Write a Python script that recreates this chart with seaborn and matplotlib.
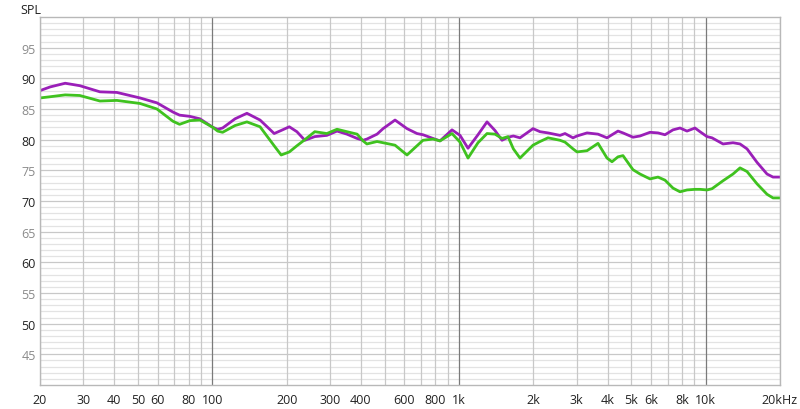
import numpy as np
import pandas as pd
import matplotlib
matplotlib.use("Agg")
import matplotlib.pyplot as plt
import seaborn as sns

freq = [20, 22, 25.3, 29, 35, 41, 50.9, 59.6, 69.2, 73.6, 81, 89, 100.5, 105, 110,
        123.5, 138, 156, 178, 190, 205, 220, 237, 260, 291, 320, 351, 386, 408, 423,
        465, 492, 550, 615, 675, 714, 784, 837, 936, 1009, 1087, 1193, 1298, 1398,
        1493, 1579, 1660, 1766, 1994, 2129, 2294, 2566, 2688, 2896, 3007, 3301, 3658,
        3979, 4168, 4408, 4618, 5071, 5414, 5943, 6405, 6835, 7367, 7865, 8395, 9044,
        9478, 10118, 10601, 11750, 12898, 13771, 14701, 16138, 17716, 18735, 20000]

purple = [88.0, 88.6, 89.2, 88.8, 87.8, 87.7, 86.8, 86.0, 84.5, 84.0, 83.8, 83.4, 82.0, 81.7, 81.9,
          83.4, 84.3, 83.2, 81.0, 81.5, 82.1, 81.3, 79.9, 80.5, 80.7, 81.4, 80.9, 80.2, 79.9, 80.1,
          80.9, 81.8, 83.2, 81.8, 81.0, 80.8, 80.2, 79.8, 81.6, 80.7, 78.6, 80.8, 82.9, 81.5,
          79.9, 80.4, 80.6, 80.3, 81.8, 81.3, 81.1, 80.7, 81.0, 80.3, 80.6, 81.1, 80.9,
          80.3, 80.8, 81.4, 81.1, 80.4, 80.6, 81.2, 81.1, 80.8, 81.6, 81.9, 81.4, 81.9,
          81.3, 80.5, 80.3, 79.3, 79.5, 79.3, 78.5, 76.3, 74.4, 73.9, 73.9]

green = [86.8, 87.0, 87.3, 87.2, 86.3, 86.4, 85.9, 85.0, 83.0, 82.5, 83.1, 83.2, 82.0, 81.4, 81.2,
         82.3, 82.9, 82.1, 79.0, 77.5, 78.0, 79.0, 80.0, 81.3, 81.0, 81.7, 81.3, 80.9, 79.8, 79.3,
         79.7, 79.5, 79.1, 77.5, 79.0, 79.9, 80.1, 79.8, 81.0, 79.6, 77.0, 79.5, 81.0, 80.9,
         80.2, 80.5, 78.5, 77.0, 79.1, 79.7, 80.3, 79.9, 79.6, 78.5, 78.0, 78.2, 79.4,
         77.0, 76.4, 77.2, 77.4, 75.1, 74.4, 73.6, 73.9, 73.4, 72.1, 71.5, 71.8, 71.9,
         71.9, 71.8, 72.0, 73.3, 74.4, 75.4, 74.8, 72.8, 71.1, 70.5, 70.5]

series_names = ["A", "B"]
series_colors = ["#9a1fb8", "#3fc21f"]

xtick_vals = [20, 30, 40, 50, 60, 80, 100, 200, 300, 400, 600, 800, 1000, 2000, 3000,
              4000, 5000, 6000, 8000, 10000, 20000]
xtick_labels = ["20", "30", "40", "50", "60", "80", "100", "200", "300", "400", "600", "800",
                "1k", "2k", "3k", "4k", "5k", "6k", "8k", "10k", "20kHz"]
ytick_vals = [45, 50, 55, 60, 65, 70, 75, 80, 85, 90, 95]

df = pd.DataFrame({
    "freq": freq * 2,
    "spl": purple + green,
    "series": [series_names[0]] * len(freq) + [series_names[1]] * len(freq),
})

sns.set_style("white")
plt.rcParams["font.family"] = ["Open Sans", "DejaVu Sans"]

fig = plt.figure(figsize=(8, 4.1), dpi=100)
ax = fig.add_axes([40 / 800, 1 - 386 / 410, 740 / 800, 368 / 410])

ax.set_xscale("log")
ax.set_xlim(20, 20000)
ax.set_ylim(40, 100)

# grid lines
for v in range(41, 100):
    if v % 5 == 0:
        ax.axhline(v, color="#c8c8c8", lw=0.9, zorder=0)
    else:
        ax.axhline(v, color="#e3e3e3", lw=0.9, zorder=0)
minor_x = [m * 10 ** e for e in (1, 2, 3) for m in range(2, 10)] + [20000]
for v in minor_x:
    if v >= 20:
        ax.axvline(v, color="#c8c8c8", lw=0.9, zorder=0)
for v in (100, 1000, 10000):
    ax.axvline(v, color="#7a7a7a", lw=0.9, zorder=0)

sns.lineplot(data=df, x="freq", y="spl", hue="series", palette=series_colors,
             linewidth=2.0, legend=False, ax=ax, sort=False)
for ln in ax.get_lines()[-2:]:
    ln.set_solid_joinstyle("round")
    ln.set_solid_capstyle("round")

ax.set_xticks(xtick_vals)
ax.set_xticklabels(xtick_labels)
ax.xaxis.set_minor_locator(matplotlib.ticker.NullLocator())
ax.set_yticks(ytick_vals)
ax.set_yticklabels([str(v) for v in ytick_vals])
for lab, v in zip(ax.get_yticklabels(), ytick_vals):
    lab.set_color("#222222" if v % 10 == 0 else "#8a8a8a")
ax.tick_params(axis="both", length=0, labelsize=9)
ax.tick_params(axis="x", pad=6, colors="#222222")
ax.tick_params(axis="y", pad=3)
ax.set_xlabel("")
ax.set_ylabel("")
for s in ax.spines.values():
    s.set_color("#b8b8b8")
    s.set_linewidth(1.0)

fig.text(20 / 800, 1 - 10 / 410, "SPL", fontsize=9, color="#222222", va="center", ha="left")

fig.savefig("out.png", dpi=100)
